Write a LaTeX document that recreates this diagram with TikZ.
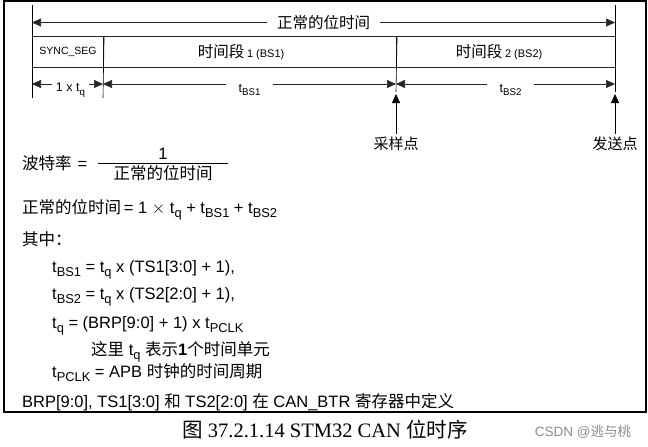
\documentclass[tikz,border=0pt]{standalone}
\usepackage{amsmath}
\usepackage{fontspec}
\setmainfont{Liberation Sans}
\newfontfamily\cjk{Noto Sans CJK SC}
\newfontfamily\capserif{Liberation Serif}
\usetikzlibrary{arrows.meta}
\newcommand{\tsb}[1]{t\raisebox{-.3em}{\scalebox{0.78}{#1}}}
\newcommand{\fs}[1]{\fontsize{#1}{#1}\selectfont}

\tikzset{
  dimarr/.style={{Triangle[length=9pt,width=8pt]}-{Triangle[length=9pt,width=8pt]}, line width=0.6pt, black!85},
  uparr/.style={-{Triangle[length=9pt,width=8pt]}, line width=0.8pt},
  seg/.style={draw, line width=1.1pt, black!85, text=black, minimum height=31pt, anchor=north west, inner sep=0pt},
  gaplbl/.style={fill=white, inner xsep=4pt, inner ysep=1pt, text=black, font=\fs{12.5}},
  row/.style={anchor=base west, inner sep=0pt, font=\fs{16.5}},
}

\begin{document}
\begin{tikzpicture}[x=1pt,y=-1pt]
\useasboundingbox (0,0) rectangle (648,447);
\draw[line width=1.3pt] (4,1) rectangle (646,412);

\node[seg, minimum width=71pt] (sync) at (32,36) {\fs{10.5}SYNC\_SEG};
\node[seg, minimum width=293pt] (bs1) at (103,36) {{\cjk\fs{15.5}时间段} \fs{11}1 (BS1)\hspace*{18pt}};
\node[seg, minimum width=219pt] (bs2) at (396,36) {{\cjk\fs{15.5}时间段} \fs{11}2 (BS2)\hspace*{14pt}};

\coordinate (t0) at (32,5);
\coordinate (t0b) at (32,98);
\coordinate (t1b) at (103,98);
\coordinate (t2b) at (396,92);
\coordinate (t3) at (615,5);
\coordinate (t3b) at (615,92);
\draw[line width=0.6pt] (t0) -- (t0b);
\draw[line width=0.6pt] (sync.north east) -- (t1b);
\draw[line width=0.6pt] (bs1.north east) -- (t2b);
\draw[line width=0.6pt] (t3) -- (t3b);

\coordinate (w0) at (32,22.5);
\coordinate (w1) at (615,22.5);
\draw[dimarr] (w0) -- node[gaplbl, inner xsep=10pt, font=\cjk\fs{15.5}] (whole) {正常的位时间} (w1);

\coordinate (a0) at (32,84);
\coordinate (a1) at (103,84);
\coordinate (a2) at (396,84);
\coordinate (a3) at (615,84);
\draw[dimarr] (a0) -- node[gaplbl, yshift=-6pt, xshift=3pt] (tq) {1 x \tsb{q}} (a1);
\draw[dimarr] (a1) -- node[gaplbl, yshift=-6pt, inner xsep=13pt] (tb1) {\tsb{BS1}} (a2);
\draw[dimarr] (a2) -- node[gaplbl, yshift=-6pt, xshift=5pt, inner xsep=13pt] (tb2) {\tsb{BS2}} (a3);

\coordinate (s1) at (396,94);
\coordinate (x1) at (615,94);
\node[font=\cjk\fs{15}] (samp) at (396,144) {采样点};
\node[font=\cjk\fs{15}] (send) at (615,144) {发送点};
\draw[uparr] (samp.north) -- (s1);
\draw[uparr] (send.north) -- (x1);

\node[row] (rate) at (22,169) {{\cjk 波特率}\hspace{6pt}=};
\node[font=\fs{16.5}] (num) at (163,154) {1};
\node[font=\cjk\fs{16.5}] (den) at (163,173) {正常的位时间};
\coordinate (barl) at (98,163);
\coordinate (barr) at (228,163);
\draw[line width=0.7pt] (barl) -- (barr);

\node[row] (bit) at (22,213) {{\cjk 正常的位时间}\,= 1 $\times$ \tsb{q} + \tsb{BS1} + \tsb{BS2}};
\node[row] (among) at (22,245) {\cjk 其中：};
\node[row] (bs1eq) at (52,272) {\tsb{BS1} = \tsb{q} x (TS1[3:0] + 1),};
\node[row] (bs2eq) at (52,299) {\tsb{BS2} = \tsb{q} x (TS2[2:0] + 1),};
\node[row] (tqeq) at (52,328) {\tsb{q} = (BRP[9:0] + 1) x \tsb{PCLK}};
\node[row] (note) at (91,355) {{\cjk 这里} \tsb{q} {\cjk 表示}\textbf{1}{\cjk 个时间单元}};
\node[row] (pclk) at (52,377) {\tsb{PCLK} = APB {\cjk 时钟的时间周期}};
\node[row] (regs) at (22,407) {BRP[9:0], TS1[3:0] {\cjk 和} TS2[2:0] {\cjk 在} CAN\_BTR {\cjk 寄存器中定义}};

\node[font=\capserif\fs{20.5}] (cap) at (325,430) {{\cjk 图} 37.2.1.14 STM32 CAN {\cjk 位时序}};
\node[font=\fs{13.5}, text=black!45] (mark) at (583,432) {CSDN @{\cjk 逃与桃}};
\end{tikzpicture}
\end{document}
